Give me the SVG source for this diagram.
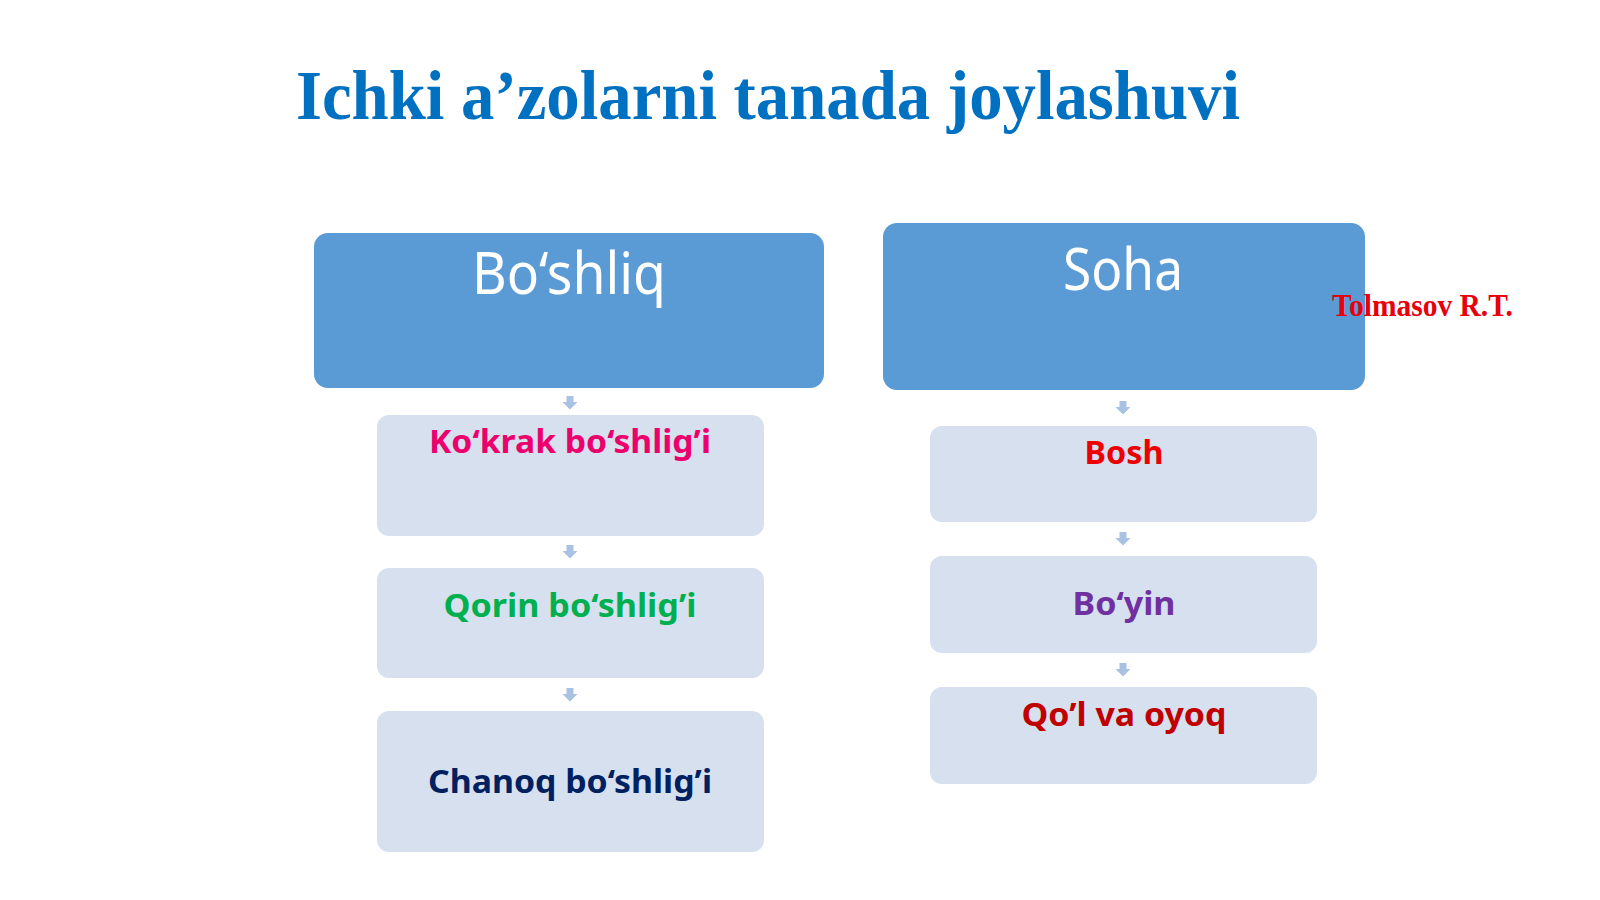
<svg xmlns="http://www.w3.org/2000/svg" width="1600" height="900" viewBox="0 0 1600 900">
<defs>
<style>
.main{fill:#5B9BD5;}
.sub{fill:#D6E0EF;}
.mt{font-family:"Noto Sans","Open Sans","Liberation Sans",sans-serif;font-size:58px;fill:#FFFFFF;text-anchor:middle;}
.st{font-family:"Noto Sans","Open Sans","Liberation Sans",sans-serif;font-size:32px;font-weight:bold;text-anchor:middle;}
.arr{fill:#A9C1E2;}
</style>
<path id="dn" d="M-3.5,0 h7 v6 h4 l-7.5,7.5 l-7.5,-7.5 h4 z"/>
</defs>
<rect width="1600" height="900" fill="#FFFFFF"/>
<text x="768" y="119" font-family="'Liberation Serif','Times New Roman',serif" font-size="70" font-weight="bold" fill="#0070C0" text-anchor="middle" textLength="944" lengthAdjust="spacingAndGlyphs">Ichki a’zolarni tanada joylashuvi</text>

<g id="connectors" class="arr">
<use href="#dn" x="570" y="396"/>
<use href="#dn" x="570" y="545"/>
<use href="#dn" x="570" y="688"/>
<use href="#dn" x="1123" y="401"/>
<use href="#dn" x="1123" y="532"/>
<use href="#dn" x="1123" y="663"/>
</g>

<g id="boshliq">
<rect class="main" x="314" y="233" width="510" height="155" rx="14"/>
<text class="mt" x="569" y="294" textLength="194" lengthAdjust="spacingAndGlyphs">Bo‘shliq</text>
</g>
<g id="kokrak">
<rect class="sub" x="377" y="415" width="387" height="121" rx="12"/>
<text class="st" x="570" y="453" fill="#EC006C" textLength="282" lengthAdjust="spacingAndGlyphs">Ko‘krak bo‘shlig’i</text>
</g>
<g id="qorin">
<rect class="sub" x="377" y="568" width="387" height="110" rx="12"/>
<text class="st" x="570" y="617" fill="#00B050" textLength="253" lengthAdjust="spacingAndGlyphs">Qorin bo‘shlig’i</text>
</g>
<g id="chanoq">
<rect class="sub" x="377" y="711" width="387" height="141" rx="12"/>
<text class="st" x="570" y="793" fill="#002060" textLength="284" lengthAdjust="spacingAndGlyphs">Chanoq bo‘shlig’i</text>
</g>

<g id="soha">
<rect class="main" x="883" y="223" width="482" height="167" rx="14"/>
<text class="mt" x="1123" y="290" textLength="120" lengthAdjust="spacingAndGlyphs">Soha</text>
</g>
<g id="bosh">
<rect class="sub" x="930" y="426" width="387" height="96" rx="12"/>
<text class="st" x="1124" y="464" fill="#EE0000" textLength="79" lengthAdjust="spacingAndGlyphs">Bosh</text>
</g>
<g id="boyin">
<rect class="sub" x="930" y="556" width="387" height="97" rx="12"/>
<text class="st" x="1124" y="615" fill="#7030A0" textLength="103" lengthAdjust="spacingAndGlyphs">Bo‘yin</text>
</g>
<g id="qol">
<rect class="sub" x="930" y="687" width="387" height="97" rx="12"/>
<text class="st" x="1124" y="726" fill="#C00000" textLength="205" lengthAdjust="spacingAndGlyphs">Qo’l va oyoq</text>
</g>

<text x="1332" y="316" font-family="'Liberation Serif','Times New Roman',serif" font-size="31" font-weight="bold" fill="#E8000B" textLength="181" lengthAdjust="spacingAndGlyphs">Tolmasov R.T.</text>
</svg>
